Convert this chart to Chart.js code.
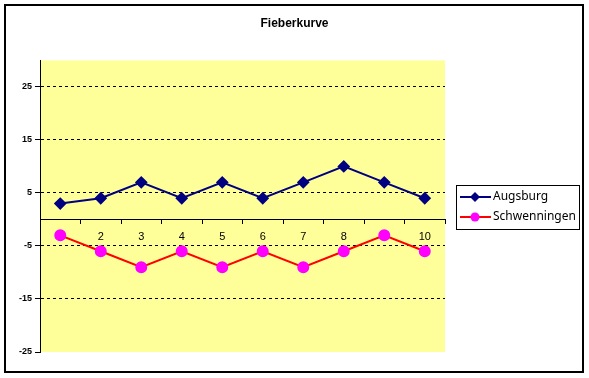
<!DOCTYPE html>
<html>
<head>
<meta charset="utf-8">
<script src="https://cdn.jsdelivr.net/npm/chart.js@4"></script>
<style>
  html, body { margin: 0; padding: 0; background: #fff; }
  #wrap { width: 589px; height: 378px; }
</style>
</head>
<body>
<div id="wrap"><canvas id="fieber"></canvas></div>
<script>
const days = ["1", "2", "3", "4", "5", "6", "7", "8", "9", "10"];
const augsburg = [3, 4, 7, 4, 7, 4, 7, 10, 7, 4];
const schwenningen = [-3, -6, -9, -6, -9, -6, -9, -6, -3, -6];
const yTicks = [-25, -15, -5, 5, 15, 25];

// yellow plot area, axis lines, outer frame and legend box like the excel original
const excelLook = {
  id: "excelLook",
  beforeDraw: (chart) => {
    const { ctx, chartArea } = chart;
    ctx.save();
    ctx.fillStyle = "#FFFF99";
    ctx.fillRect(chartArea.left, chartArea.top, chartArea.right - chartArea.left, chartArea.bottom - chartArea.top);
    ctx.restore();
  },
  beforeDatasetsDraw: (chart) => {
    // category axis crosses at 0, value axis on the left
    const { ctx, chartArea, scales } = chart;
    const y0 = Math.round(scales.y.getPixelForValue(0)) + 0.5;
    ctx.save();
    ctx.strokeStyle = "#000";
    ctx.lineWidth = 1;
    ctx.beginPath();
    ctx.moveTo(chartArea.left, y0);
    ctx.lineTo(chartArea.right, y0);
    ctx.moveTo(chartArea.left + 0.5, chartArea.top);
    ctx.lineTo(chartArea.left + 0.5, chartArea.bottom);
    ctx.stroke();
    ctx.restore();
  },
  afterDraw: (chart) => {
    const ctx = chart.ctx;
    ctx.save();
    ctx.strokeStyle = "#000";
    ctx.lineWidth = 2;
    ctx.strokeRect(5, 5, 578, 367);

    // legend
    ctx.lineWidth = 1;
    ctx.strokeRect(456.5, 185.5, 123, 44);
    chart.data.datasets.forEach((ds, i) => {
      const y = 197 + i * 20;
      ctx.strokeStyle = ds.borderColor;
      ctx.lineWidth = 2;
      ctx.beginPath();
      ctx.moveTo(460, y);
      ctx.lineTo(491, y);
      ctx.stroke();
      ctx.fillStyle = ds.pointBackgroundColor;
      ctx.beginPath();
      if (ds.pointStyle === "rectRot") {
        ctx.moveTo(475, y - 5);
        ctx.lineTo(480, y);
        ctx.lineTo(475, y + 5);
        ctx.lineTo(470, y);
        ctx.closePath();
      } else {
        ctx.arc(475, y, 4.5, 0, Math.PI * 2);
      }
      ctx.fill();
      ctx.fillStyle = "#000";
      ctx.font = "12px 'Noto Sans'";
      ctx.textBaseline = "middle";
      ctx.fillText(ds.label, 493, y);
    });
    ctx.restore();
  },
};

new Chart(document.getElementById("fieber"), {
  type: "line",
  data: {
    labels: days,
    datasets: [
      {
        label: "Augsburg",
        data: augsburg,
        borderColor: "#000080",
        pointBackgroundColor: "#000080",
        pointBorderColor: "#000080",
        pointStyle: "rectRot",
        pointRadius: 5,
        borderWidth: 2,
      },
      {
        label: "Schwenningen",
        data: schwenningen,
        borderColor: "#FF0000",
        pointBackgroundColor: "#FF00FF",
        pointBorderColor: "#FF00FF",
        pointStyle: "circle",
        pointRadius: 5,
        borderWidth: 2,
      },
    ],
  },
  options: {
    responsive: true,
    maintainAspectRatio: false,
    animation: false,
    layout: { padding: { left: 0, right: 0, top: 0, bottom: 26 } },
    plugins: {
      legend: { display: false },
      tooltip: { enabled: false },
      title: {
        display: true,
        text: "Fieberkurve",
        color: "#000",
        font: { family: "'Liberation Sans', Arial", size: 12, weight: "bold" },
        padding: { top: 16, bottom: 30 },
      },
    },
    scales: {
      x: {
        position: { y: 0 },
        offset: true,
        grid: { offset: true, drawOnChartArea: false, tickLength: 4, tickColor: "#000", color: "#000" },
        border: { display: true, color: "#000", width: 1 },
        ticks: { color: "#000", padding: 7, maxRotation: 0, font: { family: "'Liberation Sans', Arial", size: 11 } },
      },
      y: {
        min: -25,
        max: 30,
        afterBuildTicks: (scale) => {
          scale.ticks = yTicks.map((v) => ({ value: v }));
        },
        afterFit: (scale) => {
          scale.width = 40;
        },
        grid: {
          color: (c) => (c.tick && c.tick.value === -25 ? "rgba(0,0,0,0)" : "#000"),
          tickColor: "#000",
          tickBorderDash: [],
          tickLength: 5,
        },
        border: { display: true, color: "#000", width: 1, dash: [3, 3] },
        ticks: { color: "#000", padding: 3, font: { family: "'Liberation Sans', Arial", size: 9, weight: "bold" } },
      },
      // empty right-hand axis only reserves the room where the legend sits
      spacer: {
        position: "right",
        grid: { display: false },
        border: { display: false },
        ticks: { display: false },
        afterFit: (scale) => {
          scale.width = 144;
        },
      },
    },
  },
  plugins: [excelLook],
});
</script>
</body>
</html>
